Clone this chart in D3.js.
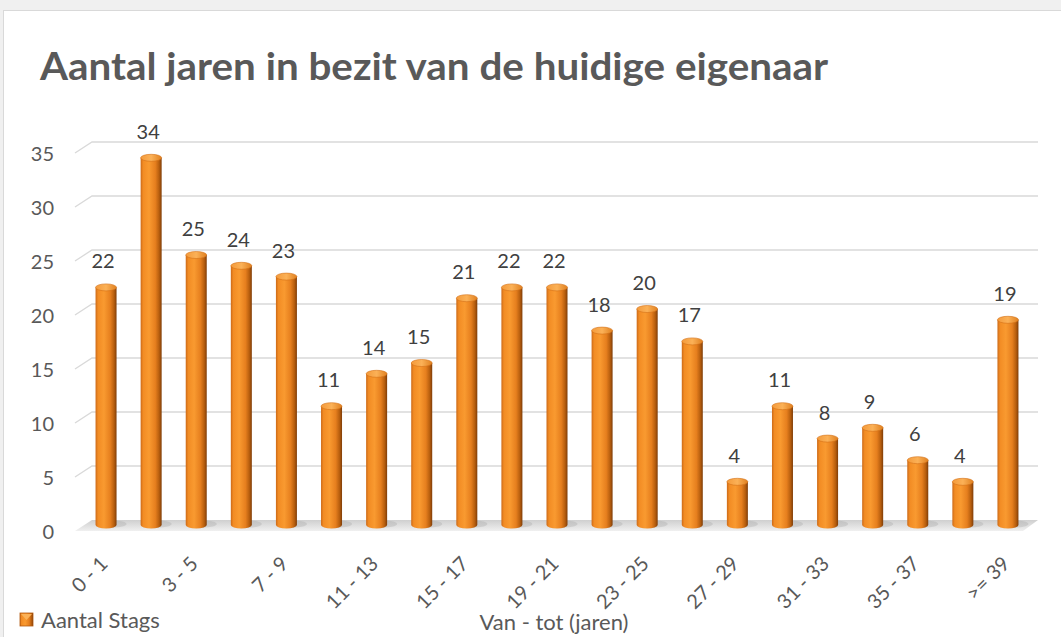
<!DOCTYPE html>
<html>
<head>
<meta charset="utf-8">
<script src="https://cdn.jsdelivr.net/npm/d3@7"></script>
<style>
  body { margin: 0; background: #f0f0f0; overflow: hidden; }
  svg { display: block; }
</style>
</head>
<body>
<script>
// data
var categories = ["0 - 1", "1 - 3", "3 - 5", "5 - 7", "7 - 9", "9 - 11", "11 - 13", "13 - 15",
  "15 - 17", "17 - 19", "19 - 21", "21 - 23", "23 - 25", "25 - 27", "27 - 29", "29 - 31",
  "31 - 33", "33 - 35", "35 - 37", "37 - 39", ">= 39"];
var values = [22, 34, 25, 24, 23, 11, 14, 15, 21, 22, 22, 18, 20, 17, 4, 11, 8, 9, 6, 4, 19];
var yTicks = [0, 5, 10, 15, 20, 25, 30, 35];
var seriesName = "Aantal Stags";
var title = "Aantal jaren in bezit van de huidige eigenaar";
var xTitle = "Van - tot (jaren)";

var W = 1061, H = 637;
var font = "Lato, 'Open Sans', sans-serif";

var svg = d3.select("body").append("svg")
  .attr("width", W)
  .attr("height", H);

var defs = svg.append("defs");
var grad = defs.append("linearGradient").attr("id", "barGrad")
  .attr("x1", "0%").attr("x2", "100%").attr("y1", "0%").attr("y2", "0%");
[[0, "#cc6a18"], [0.12, "#f28c24"], [0.4, "#f99a30"], [0.7, "#e67f1e"], [0.88, "#b75e0e"], [1, "#7f3d08"]]
  .forEach(function (s) { grad.append("stop").attr("offset", s[0]).attr("stop-color", s[1]); });
var topGrad = defs.append("linearGradient").attr("id", "topGrad")
  .attr("x1", "0%").attr("x2", "100%");
[[0, "#f49a3a"], [0.5, "#fbb157"], [1, "#e0801f"]]
  .forEach(function (s) { topGrad.append("stop").attr("offset", s[0]).attr("stop-color", s[1]); });
var floorGrad = defs.append("linearGradient").attr("id", "floorGrad")
  .attr("x1", "0%").attr("x2", "0%").attr("y1", "0%").attr("y2", "100%");
[[0, "#cfcfcf"], [1, "#f0f0f0"]]
  .forEach(function (s) { floorGrad.append("stop").attr("offset", s[0]).attr("stop-color", s[1]); });

// white card
svg.append("rect")
  .attr("x", 3.5).attr("y", 10.5)
  .attr("width", W).attr("height", H)
  .attr("fill", "#fff")
  .attr("stroke", "#d9d9d9");

// title
svg.append("text")
  .attr("x", 40).attr("y", 80)
  .attr("font-family", font)
  .attr("font-weight", "bold")
  .attr("font-size", 38)
  .attr("fill", "#595959")
  .attr("textLength", 788)
  .attr("lengthAdjust", "spacingAndGlyphs")
  .text(title);

var x = d3.scaleBand().domain(categories).range([83.5, 1030.5]);
var yBack = d3.scaleLinear().domain([0, 35]).range([520, 142]);
var depthX = 17, depthY = 11; // 3D depth offset of the back wall
var frontShift = 5;
var barW = 21;

// gridlines (back wall with perspective stub on the left)
var grid = svg.append("g");
var gx0 = 92, gx1 = 1038;
yTicks.slice(1).forEach(function (t) {
  var yy = yBack(t);
  grid.append("path")
    .attr("d", "M" + (gx0 - depthX) + "," + (yy + depthY) + "L" + gx0 + "," + yy + "L" + gx1 + "," + yy)
    .attr("fill", "none")
    .attr("stroke", "#d9d9d9")
    .attr("stroke-width", 1.3);
});

// floor
var y0 = yBack(0);
svg.append("path")
  .attr("d", "M" + (gx0 - depthX) + "," + (y0 + depthY) + "L" + gx0 + "," + y0 +
    "L" + gx1 + "," + y0 + "L" + (gx1 - 15) + "," + (y0 + depthY) + "Z")
  .attr("fill", "url(#floorGrad)");

// y labels
svg.append("g").selectAll("text")
  .data(yTicks)
  .join("text")
  .attr("x", 54)
  .attr("y", function (d) { return yBack(d) + 12; })
  .attr("dy", "0.35em")
  .attr("text-anchor", "end")
  .attr("font-family", font)
  .attr("font-size", 20)
  .attr("fill", "#595959")
  .text(function (d) { return d; });

// bars as cylinders
var bars = svg.append("g").selectAll("g")
  .data(values)
  .join("g")
  .attr("transform", function (d, i) {
    return "translate(" + (x(categories[i]) + x.bandwidth() / 2) + ",0)";
  });

var yFront = function (v) { return yBack(v) + frontShift; };
var ry = 3.5;

// soft shadow on the floor
bars.append("ellipse")
  .attr("cx", 7).attr("cy", yFront(0) - 1)
  .attr("rx", barW / 2 + 3).attr("ry", 3.5)
  .attr("fill", "#a0a0a0").attr("opacity", 0.3);

bars.append("path")
  .attr("d", function (d) {
    var t = yFront(d), b = yFront(0), r = barW / 2;
    return "M" + (-r) + "," + t + "L" + (-r) + "," + b +
      "A" + r + "," + ry + " 0 0 0 " + r + "," + b +
      "L" + r + "," + t + "Z";
  })
  .attr("fill", "url(#barGrad)");

bars.append("ellipse")
  .attr("cx", 0)
  .attr("cy", function (d) { return yFront(d); })
  .attr("rx", barW / 2).attr("ry", ry)
  .attr("fill", "url(#topGrad)")
  .attr("stroke", "#d47018")
  .attr("stroke-width", 0.6);

// value labels
bars.append("text")
  .attr("x", -3)
  .attr("y", function (d) { return yFront(d) - 19; })
  .attr("text-anchor", "middle")
  .attr("font-family", font)
  .attr("font-size", 20)
  .attr("fill", "#404040")
  .text(function (d) { return d; });

// x tick labels, every other category
svg.append("g").selectAll("text")
  .data(categories.filter(function (c, i) { return i % 2 === 0; }))
  .join("text")
  .attr("transform", function (c) {
    return "translate(" + (x(c) + x.bandwidth() / 2 - 2) + ",560) rotate(-45)";
  })
  .attr("text-anchor", "end")
  .attr("dy", "0.35em")
  .attr("font-family", font)
  .attr("font-size", 20)
  .attr("fill", "#595959")
  .text(function (c) { return c; });

// axis title
svg.append("text")
  .attr("x", 554).attr("y", 630)
  .attr("text-anchor", "middle")
  .attr("font-family", font)
  .attr("font-size", 22)
  .attr("fill", "#595959")
  .text(xTitle);

// legend
var lg = svg.append("g").attr("transform", "translate(20,613)");
lg.append("rect")
  .attr("width", 13).attr("height", 13)
  .attr("fill", "url(#barGrad)")
  .attr("stroke", "#b35a10").attr("stroke-width", 0.8);
lg.append("path")
  .attr("d", "M1,1L6.5,7L12,1Z")
  .attr("fill", "#fbb157");
lg.append("text")
  .attr("x", 21).attr("y", 7)
  .attr("dy", "0.35em")
  .attr("font-family", font)
  .attr("font-size", 22)
  .attr("fill", "#595959")
  .text(seriesName);
</script>
</body>
</html>
